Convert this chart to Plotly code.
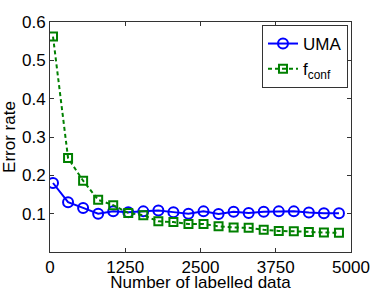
import plotly.graph_objects as go

x_labelled = [50, 300, 550, 800, 1050, 1300, 1550, 1800, 2050, 2300,
              2550, 2800, 3050, 3300, 3550, 3800, 4050, 4300, 4550, 4800]
uma_err = [0.180, 0.130, 0.115, 0.100, 0.106, 0.104, 0.106, 0.108, 0.104, 0.100,
           0.106, 0.099, 0.105, 0.102, 0.105, 0.106, 0.106, 0.103, 0.101, 0.101]
fconf_err = [0.562, 0.245, 0.186, 0.136, 0.122, 0.102, 0.096, 0.080, 0.078, 0.073,
             0.073, 0.067, 0.064, 0.063, 0.058, 0.055, 0.054, 0.052, 0.051, 0.050]
x_ticks = [0, 1250, 2500, 3750, 5000]
y_ticks = [0.1, 0.2, 0.3, 0.4, 0.5, 0.6]

fig = go.Figure()
fig.add_trace(go.Scatter(
    x=x_labelled, y=uma_err, name="UMA", mode="lines+markers",
    line=dict(color="#0000ff", width=2),
    marker=dict(symbol="circle-open", size=10, color="#0000ff", line=dict(width=2)),
))
fig.add_trace(go.Scatter(
    x=x_labelled, y=fconf_err, name="f<sub>conf</sub>", mode="lines+markers",
    line=dict(color="#008000", width=2, dash="4px,3px"),
    marker=dict(symbol="square-open", size=8, color="#008000", line=dict(width=2)),
))

axis_common = dict(
    showline=True, linecolor="#333333", linewidth=1, mirror="ticks",
    ticks="inside", ticklen=4, tickcolor="#333333", showgrid=False, zeroline=False,
    tickfont=dict(size=17, color="black"), automargin=False,
)
fig.update_layout(
    width=388, height=292,
    margin=dict(l=50, r=37, t=22, b=40),
    paper_bgcolor="white", plot_bgcolor="white",
    font=dict(family="Liberation Sans, Arial, sans-serif", color="black", size=17),
    xaxis=dict(range=[0, 5000], tickvals=x_ticks, ticktext=[str(v) for v in x_ticks],
               ticklabelstandoff=0,
               title=dict(text="Number of labelled data", standoff=6, font=dict(size=17)),
               **axis_common),
    yaxis=dict(range=[0, 0.6], tickvals=y_ticks, ticktext=[f"{v:.1f}" for v in y_ticks],
               title=dict(text="Error rate", standoff=2, font=dict(size=17)),
               **axis_common),
    legend=dict(x=0.99, y=0.987, xanchor="right", yanchor="top",
                bgcolor="white", bordercolor="#333333", borderwidth=1,
                font=dict(size=17), tracegroupgap=0, itemwidth=30),
    showlegend=True,
)
fig.write_html("out.html", config={"displayModeBar": False},
               post_script="document.body.style.margin='0';document.body.style.padding='0';")
